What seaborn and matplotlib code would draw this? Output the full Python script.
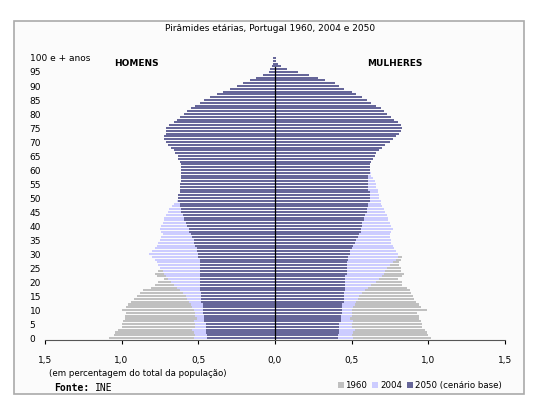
import numpy as np
import pandas as pd
import matplotlib
matplotlib.use("Agg")
import matplotlib.pyplot as plt
import seaborn as sns
from matplotlib.patches import Rectangle

ages = list(range(101))
m2050 = [.44,.44,.45,.45,.45,.45,.46,.46,.46,.47, .47,.47,.47,.48,.48,.48,.48,.49,.49,.49,
         .49,.49,.49,.49,.49,.49,.49,.49,.49,.50, .50,.51,.51,.52,.53,.53,.54,.55,.56,.56,
         .57,.58,.59,.59,.60,.61,.61,.62,.62,.63, .63,.63,.62,.62,.62,.62,.61,.61,.61,.61,
         .61,.61,.61,.62,.63,.63,.65,.66,.68,.70, .71,.72,.72,.71,.71,.71,.69,.66,.64,.62,
         .59,.57,.55,.52,.49,.46,.42,.38,.34,.29, .25,.21,.16,.12,.08,.04,.03,.02,.01,.01, .01]
f2050 = [.41,.41,.42,.42,.42,.42,.43,.43,.43,.44, .44,.44,.44,.45,.45,.45,.45,.46,.46,.46,
         .46,.46,.46,.47,.47,.47,.47,.47,.48,.48, .49,.49,.50,.51,.52,.53,.54,.55,.56,.56,
         .57,.57,.58,.58,.59,.60,.60,.61,.61,.62, .62,.62,.62,.61,.61,.61,.61,.61,.61,.62,
         .62,.62,.62,.63,.64,.65,.66,.68,.70,.72, .75,.77,.79,.81,.82,.83,.82,.80,.78,.76,
         .73,.71,.69,.66,.63,.60,.57,.53,.50,.45, .42,.39,.33,.28,.22,.15,.08,.04,.02,.01, .01]
m2004 = [.53,.52,.53,.54,.52,.52,.53,.51,.52,.52, .53,.54,.55,.56,.57,.58,.60,.62,.64,.66,
         .68,.70,.71,.72,.73,.75,.76,.77,.78,.80, .82,.80,.78,.77,.76,.75,.74,.73,.74,.75,
         .74,.73,.72,.72,.71,.70,.69,.67,.66,.64, .62,.62,.61,.61,.60,.60,.59,.58,.57,.56,
         .55,.54,.53,.51,.50,.48,.47,.46,.45,.44, .42,.41,.39,.37,.35,.33,.31,.29,.27,.24,
         .22,.20,.18,.16,.14,.12,.10,.08,.07,.06, .05,.04,.03,.02,.02,.01,.01,.01,0,0, 0]
f2004 = [.51,.50,.51,.52,.50,.50,.51,.49,.50,.50, .50,.51,.52,.53,.54,.55,.57,.59,.61,.63,
         .66,.68,.70,.71,.72,.73,.75,.77,.79,.80, .80,.79,.78,.77,.76,.76,.75,.75,.76,.77,
         .76,.75,.74,.74,.73,.72,.71,.70,.69,.69, .68,.68,.67,.67,.66,.66,.65,.64,.63,.63,
         .62,.62,.61,.61,.60,.60,.59,.59,.58,.57, .56,.55,.54,.52,.50,.48,.46,.44,.42,.40,
         .38,.35,.32,.29,.25,.22,.19,.16,.13,.11, .09,.07,.05,.04,.03,.02,.01,.01,.01,0, 0]
m1960 = [1.08,1.05,1.04,1.02,1.00,1.00,.99,.98,.98,.97, 1.00,.97,.96,.94,.92,.90,.88,.86,.81,.78,
         .76,.72,.77,.78,.76,.75,.74,.74,.76,.78, .75,.73,.70,.73,.72,.70,.68,.68,.66,.66,
         .65,.64,.62,.63,.62,.60,.60,.59,.58,.57, .55,.54,.54,.53,.52,.50,.49,.48,.46,.44,
         .42,.41,.40,.38,.37,.35,.34,.32,.31,.29, .27,.26,.24,.22,.20,.18,.16,.14,.13,.11,
         .10,.09,.08,.07,.06,.05,.04,.03,.03,.02, .02,.01,.01,.01,.01,0,0,0,0,0, 0]
f1960 = [1.02,1.00,.99,.98,.96,.96,.95,.94,.94,.93, .99,.95,.94,.92,.91,.90,.89,.88,.86,.83,
         .83,.80,.83,.84,.82,.82,.81,.81,.82,.83, .80,.78,.76,.77,.76,.74,.73,.73,.72,.71,
         .70,.70,.69,.69,.68,.66,.66,.65,.64,.63, .62,.61,.60,.59,.58,.57,.56,.54,.53,.51,
         .50,.49,.48,.46,.45,.44,.42,.40,.38,.37, .35,.33,.31,.29,.28,.26,.24,.22,.20,.18,
         .16,.14,.13,.11,.10,.08,.07,.06,.05,.04, .03,.02,.02,.01,.01,.01,0,0,0,0, 0]
series = ["1960", "2004", "2050 (cenário base)"]
colors = {"1960": "#c0c0c0", "2004": "#ccccff", "2050 (cenário base)": "#666699"}
yticks = list(range(0, 101, 5))
ylabels = [str(a) for a in range(0, 100, 5)] + ["100 e + anos"]
xticks = [-1.5, -1.0, -0.5, 0, 0.5, 1.0, 1.5]
xlabels = ["1,5", "1,0", "0,5", "0,0", "0,5", "1,0", "1,5"]

fig = plt.figure(figsize=(5.4, 4.15), dpi=100)
fig.patch.set_facecolor("white")
bg = fig.add_axes([0, 0, 1, 1], zorder=-5)
bg.set_xlim(0, 1); bg.set_ylim(0, 1); bg.axis("off")
bg.add_patch(Rectangle((0.025, 0.05), 0.945, 0.9, facecolor="#fbfbfb", edgecolor="#aaaaaa", linewidth=1.2))

ax = fig.add_axes([0.083, 0.18, 0.852, 0.687], zorder=1)
ax.set_facecolor("none")

data = {"1960": (m1960, f1960), "2004": (m2004, f2004), "2050 (cenário base)": (m2050, f2050)}
for s in series:
    m, f = data[s]
    sns.barplot(x=-np.array(m), y=ages, orient="y", native_scale=True, color=colors[s],
                width=0.75, linewidth=0, saturation=1, ax=ax)
    sns.barplot(x=np.array(f), y=ages, orient="y", native_scale=True, color=colors[s],
                width=0.75, linewidth=0, saturation=1, ax=ax, label=s)
ax.set_xlim(-1.5, 1.5)
ax.set_ylim(-0.8, 101)
ax.axvline(0, color="black", lw=0.9, ymax=0.96)
for sp in ["top", "right", "left"]:
    ax.spines[sp].set_visible(False)
ax.spines["bottom"].set_color("#555555")
ax.set_xticks(xticks)
ax.set_xticklabels(xlabels, fontsize=6.5)
ax.set_yticks(yticks)
ax.set_yticklabels(ylabels, fontsize=6.5)
ax.tick_params(axis="y", length=0, pad=11)
ax.tick_params(axis="x", length=3, direction="out", pad=8)
for lab in ax.get_yticklabels():
    lab.set_horizontalalignment("left")
ax.set_xlabel(""); ax.set_ylabel("")
ax.text(-0.9, 97, "HOMENS", fontsize=6.5, fontweight="bold", ha="center")
ax.text(0.78, 97, "MULHERES", fontsize=6.5, fontweight="bold", ha="center")
fig.text(0.5, 0.925, "Pirâmides etárias, Portugal 1960, 2004 e 2050", fontsize=6.5, ha="center")
fig.text(0.09, 0.095, "(em percentagem do total da população)", fontsize=6.2)
fig.text(0.1, 0.058, "Fonte:", fontsize=7, fontweight="bold", family="DejaVu Sans Mono")
fig.text(0.176, 0.058, "INE", fontsize=7, family="DejaVu Sans Mono")
ax.legend(loc="lower right", bbox_to_anchor=(1.01, -0.2), ncol=3, frameon=False, fontsize=6.2,
          handlelength=0.7, handleheight=0.7, handletextpad=0.2, columnspacing=0.6)
fig.savefig("out.png", dpi=100)
